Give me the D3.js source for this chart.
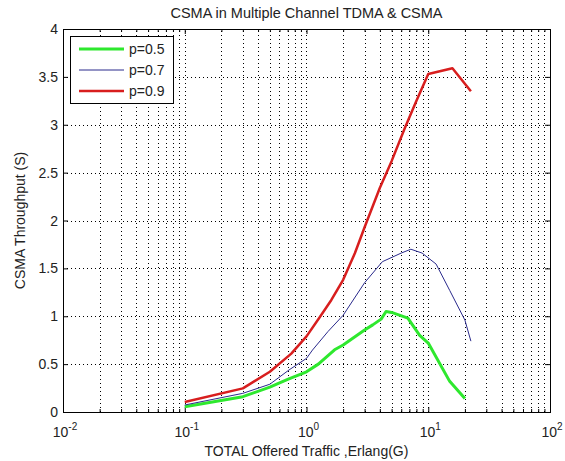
<!DOCTYPE html>
<html>
<head>
<meta charset="utf-8">
<script src="https://cdn.jsdelivr.net/npm/d3@7"></script>
<style>
  body { margin: 0; background: #fff; }
  text { font-family: "Liberation Sans", Arial, sans-serif; fill: #222; }
</style>
</head>
<body>
<svg id="chart" width="565" height="461"></svg>
<script>
// offered traffic G (Erlang) and throughput S for each p
const gP5 = [0.1, 0.3, 0.5, 0.7, 1, 1.25, 1.7, 2, 3, 3.5, 4.1, 4.5, 5, 6.8, 8.5, 10, 15, 20];
const sP5 = [0.055, 0.16, 0.26, 0.34, 0.42, 0.50, 0.65, 0.70, 0.856, 0.91, 0.97, 1.05, 1.04, 0.98, 0.80, 0.72, 0.32, 0.14];

const gP7 = [0.1, 0.3, 0.5, 0.72, 1, 1.12, 1.5, 2, 3, 4.2, 6, 7.2, 8.9, 11.6, 15, 20, 22.4];
const sP7 = [0.073, 0.195, 0.29, 0.44, 0.56, 0.647, 0.84, 1.01, 1.35, 1.57, 1.66, 1.70, 1.66, 1.545, 1.27, 0.96, 0.74];

const gP9 = [0.1, 0.3, 0.5, 0.75, 1, 1.3, 1.6, 2, 2.5, 3, 4, 5, 6.4, 8, 10, 15.8, 22.4];
const sP9 = [0.105, 0.247, 0.42, 0.61, 0.79, 1.0, 1.17, 1.38, 1.66, 1.93, 2.34, 2.62, 2.96, 3.25, 3.53, 3.59, 3.35];

const yTicks = [0, 0.5, 1, 1.5, 2, 2.5, 3, 3.5, 4];
const xDecades = [-2, -1, 0, 1, 2];

const series = [
  { name: "p=0.5", g: gP5, s: sP5, color: "#2ee82e", width: 3 },
  { name: "p=0.7", g: gP7, s: sP7, color: "#2a2a8c", width: 1 },
  { name: "p=0.9", g: gP9, s: sP9, color: "#d81e1e", width: 2.5 }
];

const svg = d3.select("#chart");
const margin = { left: 63, right: 15, top: 29, bottom: 49 };
const width = +svg.attr("width");
const height = +svg.attr("height");
const x0 = margin.left, x1 = width - margin.right;
const y0 = height - margin.bottom, y1 = margin.top;

const x = d3.scaleLog().domain([0.01, 100]).range([x0, x1]);
const y = d3.scaleLinear().domain([0, 4]).range([y0, y1]);

// log major + minor positions
const xMajor = xDecades.map(e => Math.pow(10, e));
const xMinor = [];
for (let e = -2; e < 2; e++) {
  for (let m = 2; m < 10; m++) xMinor.push(m * Math.pow(10, e));
}

const grid = svg.append("g")
  .attr("stroke", "#000")
  .attr("stroke-width", 1)
  .attr("stroke-dasharray", "1,3");

grid.selectAll("line.vx")
  .data(xMinor.concat(xMajor.slice(1, -1)))
  .join("line")
  .attr("x1", d => Math.round(x(d)) + 0.5)
  .attr("x2", d => Math.round(x(d)) + 0.5)
  .attr("y1", y0)
  .attr("y2", y1);

grid.selectAll("line.hy")
  .data(yTicks.filter(v => v > 0 && v < 4))
  .join("line")
  .attr("x1", x0)
  .attr("x2", x1)
  .attr("y1", d => Math.round(y(d)) + 0.5)
  .attr("y2", d => Math.round(y(d)) + 0.5);

function styleAxis(g) {
  g.select(".domain").remove();
  g.selectAll(".tick line").attr("stroke", "#000");
}
// ticks on all four sides, pointing inward
const axB = d3.axisBottom(x).tickValues(xMajor).tickSize(-5).tickFormat("");
const axBm = d3.axisBottom(x).tickValues(xMinor).tickSize(-3).tickFormat("");
const axT = d3.axisTop(x).tickValues(xMajor).tickSize(-5).tickFormat("");
const axTm = d3.axisTop(x).tickValues(xMinor).tickSize(-3).tickFormat("");
const axL = d3.axisLeft(y).tickValues(yTicks).tickSize(-5).tickFormat("");
const axR = d3.axisRight(y).tickValues(yTicks).tickSize(-5).tickFormat("");

svg.append("g").attr("transform", `translate(0,${y0})`).call(axB).call(styleAxis);
svg.append("g").attr("transform", `translate(0,${y0})`).call(axBm).call(styleAxis);
svg.append("g").attr("transform", `translate(0,${y1})`).call(axT).call(styleAxis);
svg.append("g").attr("transform", `translate(0,${y1})`).call(axTm).call(styleAxis);
svg.append("g").attr("transform", `translate(${x0},0)`).call(axL).call(styleAxis);
svg.append("g").attr("transform", `translate(${x1},0)`).call(axR).call(styleAxis);

svg.append("rect")
  .attr("x", x0 + 0.5).attr("y", y1 + 0.5)
  .attr("width", x1 - x0).attr("height", y0 - y1)
  .attr("fill", "none").attr("stroke", "#000").attr("stroke-width", 1);

// tick labels
svg.selectAll("text.ylab")
  .data(yTicks)
  .join("text")
  .attr("x", x0 - 5)
  .attr("y", d => y(d) + 5)
  .attr("text-anchor", "end")
  .attr("font-size", 14)
  .text(d => d);

const xl = svg.selectAll("text.xlab")
  .data(xDecades)
  .join("text")
  .attr("x", d => x(Math.pow(10, d)) + 2)
  .attr("y", y0 + 25)
  .attr("text-anchor", "middle")
  .attr("font-size", 14);
xl.append("tspan").text("10");
xl.append("tspan").attr("font-size", 10).attr("dy", -7).text(d => d);

// lines
const line = d3.line()
  .x(d => x(d[0]))
  .y(d => y(d[1]));

svg.append("g").selectAll("path")
  .data(series)
  .join("path")
  .attr("d", d => line(d.g.map((g, i) => [g, d.s[i]])))
  .attr("fill", "none")
  .attr("stroke", d => d.color)
  .attr("stroke-width", d => d.width)
  .attr("stroke-linejoin", "round");

// legend
const lg = svg.append("g");
lg.append("rect")
  .attr("x", 70.5).attr("y", 36.5)
  .attr("width", 103).attr("height", 67)
  .attr("fill", "#fff").attr("stroke", "#000");
series.forEach((s, i) => {
  const ly = 49 + i * 21;
  lg.append("line")
    .attr("x1", 79).attr("x2", 124)
    .attr("y1", ly).attr("y2", ly)
    .attr("stroke", s.color).attr("stroke-width", s.width);
  lg.append("text")
    .attr("x", 129).attr("y", ly + 5)
    .attr("font-size", 14)
    .text(s.name);
});

// titles
svg.append("text")
  .attr("x", (x0 + x1) / 2).attr("y", 18)
  .attr("text-anchor", "middle").attr("font-size", 14.5)
  .text("CSMA in Multiple Channel TDMA & CSMA");

svg.append("text")
  .attr("x", (x0 + x1) / 2).attr("y", y0 + 44)
  .attr("text-anchor", "middle").attr("font-size", 14)
  .text("TOTAL Offered Traffic ,Erlang(G)");

svg.append("text")
  .attr("transform", `translate(25,${(y0 + y1) / 2}) rotate(-90)`)
  .attr("text-anchor", "middle").attr("font-size", 14)
  .text("CSMA Throughput (S)");
</script>
</body>
</html>
